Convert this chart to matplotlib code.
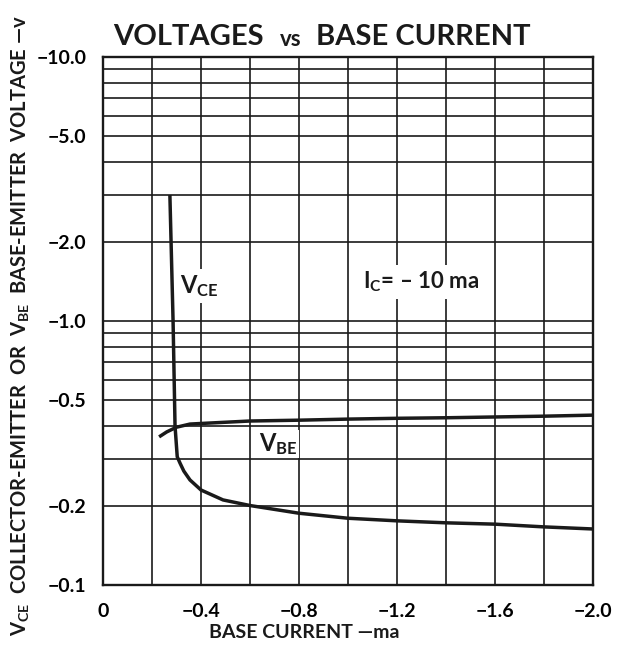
import matplotlib
matplotlib.use('Agg')
import matplotlib.pyplot as plt
import numpy as np
from matplotlib.ticker import FixedLocator, FuncFormatter, NullFormatter

# ---- data ----
vce_ib = [-0.273, -0.286, -0.294, -0.303, -0.314, -0.33, -0.355, -0.40, -0.49, -0.60,
          -0.80, -1.0, -1.2, -1.4, -1.6, -1.8, -2.0]
vce_v = [-3.0, -1.0, -0.40, -0.306, -0.29, -0.27, -0.25, -0.229, -0.21, -0.20,
         -0.187, -0.179, -0.175, -0.172, -0.170, -0.166, -0.163]

vbe_ib = [-0.229, -0.26, -0.30, -0.355, -0.42, -0.6, -0.8, -1.0, -1.2, -1.4, -1.6, -1.8, -2.0]
vbe_v = [-0.364, -0.38, -0.396, -0.407, -0.41, -0.418, -0.421, -0.425, -0.428, -0.43,
         -0.433, -0.436, -0.44]

x_ticks = [0, -0.4, -0.8, -1.2, -1.6, -2.0]
x_tick_labels = ['0', '−0.4', '−0.8', '−1.2', '−1.6', '−2.0']
x_minor = [-0.2, -0.6, -1.0, -1.4, -1.8]
y_ticks = [0.1, 0.2, 0.5, 1.0, 2.0, 5.0, 10.0]
y_tick_labels = ['−0.1', '−0.2', '−0.5', '−1.0', '−2.0', '−5.0', '−10.0']
y_minor = [0.3, 0.4, 0.6, 0.7, 0.8, 0.9, 3, 4, 6, 7, 8, 9]

FONT = 'Lato'
plt.rcParams['font.family'] = [FONT, 'DejaVu Sans']
plt.rcParams['font.weight'] = 'bold'
plt.rcParams['mathtext.fontset'] = 'custom'
plt.rcParams['mathtext.bf'] = FONT + ':bold'
plt.rcParams['mathtext.rm'] = FONT + ':bold'
plt.rcParams['mathtext.it'] = FONT + ':bold'

W, H = 627, 648
fig = plt.figure(figsize=(W / 100, H / 100), dpi=100)
ax = fig.add_axes([103 / W, 1 - 585 / H, 490 / W, 528 / H])
ax.set_yscale('log')
ax.set_ylim(0.1, 10)
ax.set_xlim(0, -2.0)

ax.xaxis.set_major_locator(FixedLocator(x_ticks))
ax.xaxis.set_minor_locator(FixedLocator(x_minor))
ax.set_xticklabels(x_tick_labels)
ax.yaxis.set_major_locator(FixedLocator(y_ticks))
ax.yaxis.set_minor_locator(FixedLocator(y_minor))
ax.yaxis.set_major_formatter(FuncFormatter(lambda v, p: y_tick_labels[y_ticks.index(min(y_ticks, key=lambda t: abs(t - v)))]))
ax.yaxis.set_minor_formatter(NullFormatter())

ax.tick_params(which='both', length=0)
ax.tick_params(axis='x', labelsize=14, pad=13)
ax.tick_params(axis='y', labelsize=14, pad=12)
for lab in ax.get_xticklabels() + ax.get_yticklabels():
    lab.set_fontweight('bold')

ax.grid(True, which='both', color='#1a1a1a', linewidth=1.2, zorder=1)
ax.set_axisbelow(True)
for s in ax.spines.values():
    s.set_linewidth(1.7)
    s.set_color('#1a1a1a')

ax.plot(vce_ib, np.abs(vce_v), color='#1a1a1a', linewidth=2.5, zorder=5, solid_capstyle='butt')
ax.plot(vbe_ib, np.abs(vbe_v), color='#1a1a1a', linewidth=2.5, zorder=5, solid_capstyle='butt')

box = dict(facecolor='white', edgecolor='none', pad=3)
def px(x, y):
    return x / W, 1 - y / H

fig.text(*px(199, 286), r'$\mathbf{V}_{\mathbf{CE}}$', fontsize=17, ha='center', va='center',
         color='#1a1a1a', bbox=box, zorder=4)
fig.text(*px(278, 444), r'$\mathbf{V}_{\mathbf{BE}}$', fontsize=17, ha='center', va='center',
         color='#1a1a1a', bbox=dict(facecolor='white', edgecolor='none', pad=1), zorder=4)
fig.text(*px(421, 282), r'$\mathbf{I}_{\mathbf{C}}$= – 10 ma', fontsize=16, ha='center', va='center',
         color='#1a1a1a', bbox=box, zorder=4)

# title
fig.text(*px(264, 37), 'VOLTAGES', fontsize=21, ha='right', va='center', color='#1a1a1a')
fig.text(*px(291, 39), 'vs', fontsize=16, ha='center', va='center', color='#1a1a1a')
fig.text(*px(316, 37), 'BASE CURRENT', fontsize=21, ha='left', va='center', color='#1a1a1a')

# axis labels
fig.text(*px(304, 633), 'BASE CURRENT —ma', fontsize=14, ha='center', va='center', color='#1a1a1a')
fig.text(*px(21, 326),
         r'$\mathbf{V}_{\mathbf{CE}}$  COLLECTOR-EMITTER  OR  $\mathbf{V}_{\mathbf{BE}}$  BASE-EMITTER  VOLTAGE —v',
         fontsize=14.5, rotation=90, ha='center', va='center', color='#1a1a1a')

fig.savefig('out.png', dpi=100, facecolor='white')
